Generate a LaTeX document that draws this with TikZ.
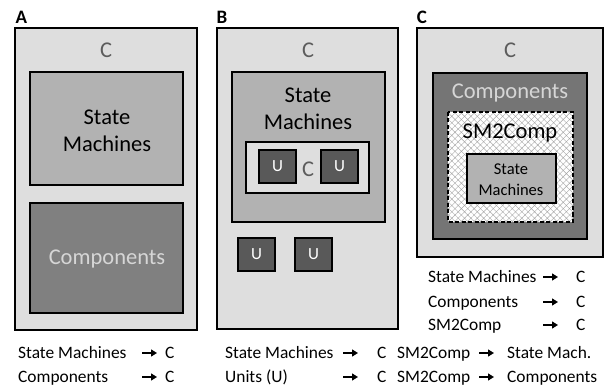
\documentclass[tikz,border=0pt]{standalone}
\usepackage{fontspec}
\setmainfont{Carlito}
\usetikzlibrary{arrows.meta,patterns.meta}

\definecolor{panelgray}{gray}{0.87}
\definecolor{smgray}{gray}{0.70}
\definecolor{compgray}{gray}{0.50}
\definecolor{unitgray}{gray}{0.35}
\definecolor{cgray}{gray}{0.36}
\definecolor{comptext}{gray}{0.84}

\tikzset{%
    box/.style={draw=black,line width=1.8pt},
    panel/.style={box,fill=panelgray},
    smbox/.style={box,fill=smgray},
    compbox/.style={box,fill=compgray},
    unitbox/.style={box,fill=unitgray},
    big/.style={font=\fontsize{22.5}{27}\selectfont,align=center,inner sep=0pt},
    small/.style={font=\fontsize{16.5}{21}\selectfont,align=center,inner sep=0pt},
    ctext/.style={big,text=cgray},
    utext/.style={font=\fontsize{17}{20}\selectfont,text=white,inner sep=0pt},
    tag/.style={font=\fontsize{19}{21}\selectfont\bfseries,inner sep=0pt},
    listtext/.style={anchor=base west,font=\fontsize{17.4}{20}\selectfont,inner sep=0pt},
    maparrow/.style={-{Triangle[length=6pt,width=7pt]},line width=1.4pt},
}

\begin{document}
\begin{tikzpicture}[x=1pt,y=-1pt]
\useasboundingbox (0,0) rectangle (605,390);

%\unitsq{name}{x}{y}  (top left corner)
\newcommand*{\unitsq}[3]{%
	\draw [unitbox] (#2,#3) rectangle ++(37,33);
	\node [utext] (#1) at (#2+18.5,#3+16.5) {U};
}

%\maprow{name}{baseline}{xtext}{text}{xarrow}{xtarget}{target}
\newcommand*{\maprow}[7]{%
	\node [listtext] (#1s) at (#3,#2) {#4};
	\coordinate (#1a) at (#5,#2-5.5);
	\coordinate (#1b) at (#5+15,#2-5.5);
	\draw [maparrow] (#1a) -- (#1b);
	\node [listtext] (#1t) at (#6,#2) {#7};
}

% panel A
\node [tag] (tagA) at (21.5,17.5) {A};
\draw [panel] (15,28) rectangle (197,330);
\node [ctext] (cA) at (106,50) {C};
\draw [smbox] (30,72) rectangle (183,185);
\node [big] (smA) at (107,131) {State\\Machines};
\draw [compbox] (30,203) rectangle (183,313);
\node [big,text=comptext] (compA) at (107,259) {Components};

% panel B
\node [tag] (tagB) at (222,17.5) {B};
\draw [panel] (217,28) rectangle (398,329);
\node [ctext] (cB) at (308,50) {C};
\draw [smbox] (232,72) rectangle (385,222);
\node [big] (smB) at (308,109) {State\\Machines};
\draw [box,fill=panelgray] (246,142) rectangle (369,193);
\node [ctext] (cBin) at (308,169) {C};
\unitsq{uB1}{259}{150}
\unitsq{uB2}{321}{150}
\unitsq{uB3}{238}{238}
\unitsq{uB4}{295}{238}

% panel C
\node [tag] (tagC) at (422,17.5) {C};
\draw [panel] (417,28) rectangle (603,257);
\node [ctext] (cC) at (510,50) {C};
\draw [box,fill=compgray!92!black] (433,73) rectangle (587,239);
\node [big,text=comptext] (compC) at (510,93) {Components};
\fill [white] (448,112) rectangle (573,222);
\fill [pattern={Hatch[angle=45,distance=4.5pt,line width=0.4pt]},pattern color=gray!70] (448,112) rectangle (573,222);
\draw [line width=1.8pt,dash pattern=on 4pt off 2.5pt] (448,112) rectangle (573,222);
\node [big] (sm2c) at (510,133) {SM2Comp};
\draw [smbox] (467,154) rectangle (556,203);
\node [small] (smC) at (511,180) {State\\Machines};

% mappings
\maprow{mA1}{358.5}{18}{State Machines}{142}{165}{C}
\maprow{mA2}{382.5}{18}{Components}{142}{165}{C}
\maprow{mB1}{358.5}{225}{State Machines}{343}{377}{C}
\maprow{mB2}{382.5}{225}{Units (U)}{343}{377}{C}
\maprow{mS1}{358.5}{397}{SM2Comp}{479}{507}{State Mach.}
\maprow{mS2}{382.5}{397}{SM2Comp}{479}{507}{Components}
\maprow{mC1}{282.5}{428}{State Machines}{543}{576}{C}
\maprow{mC2}{307.5}{428}{Components}{543}{576}{C}
\maprow{mC3}{330.5}{428}{SM2Comp}{543}{576}{C}

\end{tikzpicture}
\end{document}
